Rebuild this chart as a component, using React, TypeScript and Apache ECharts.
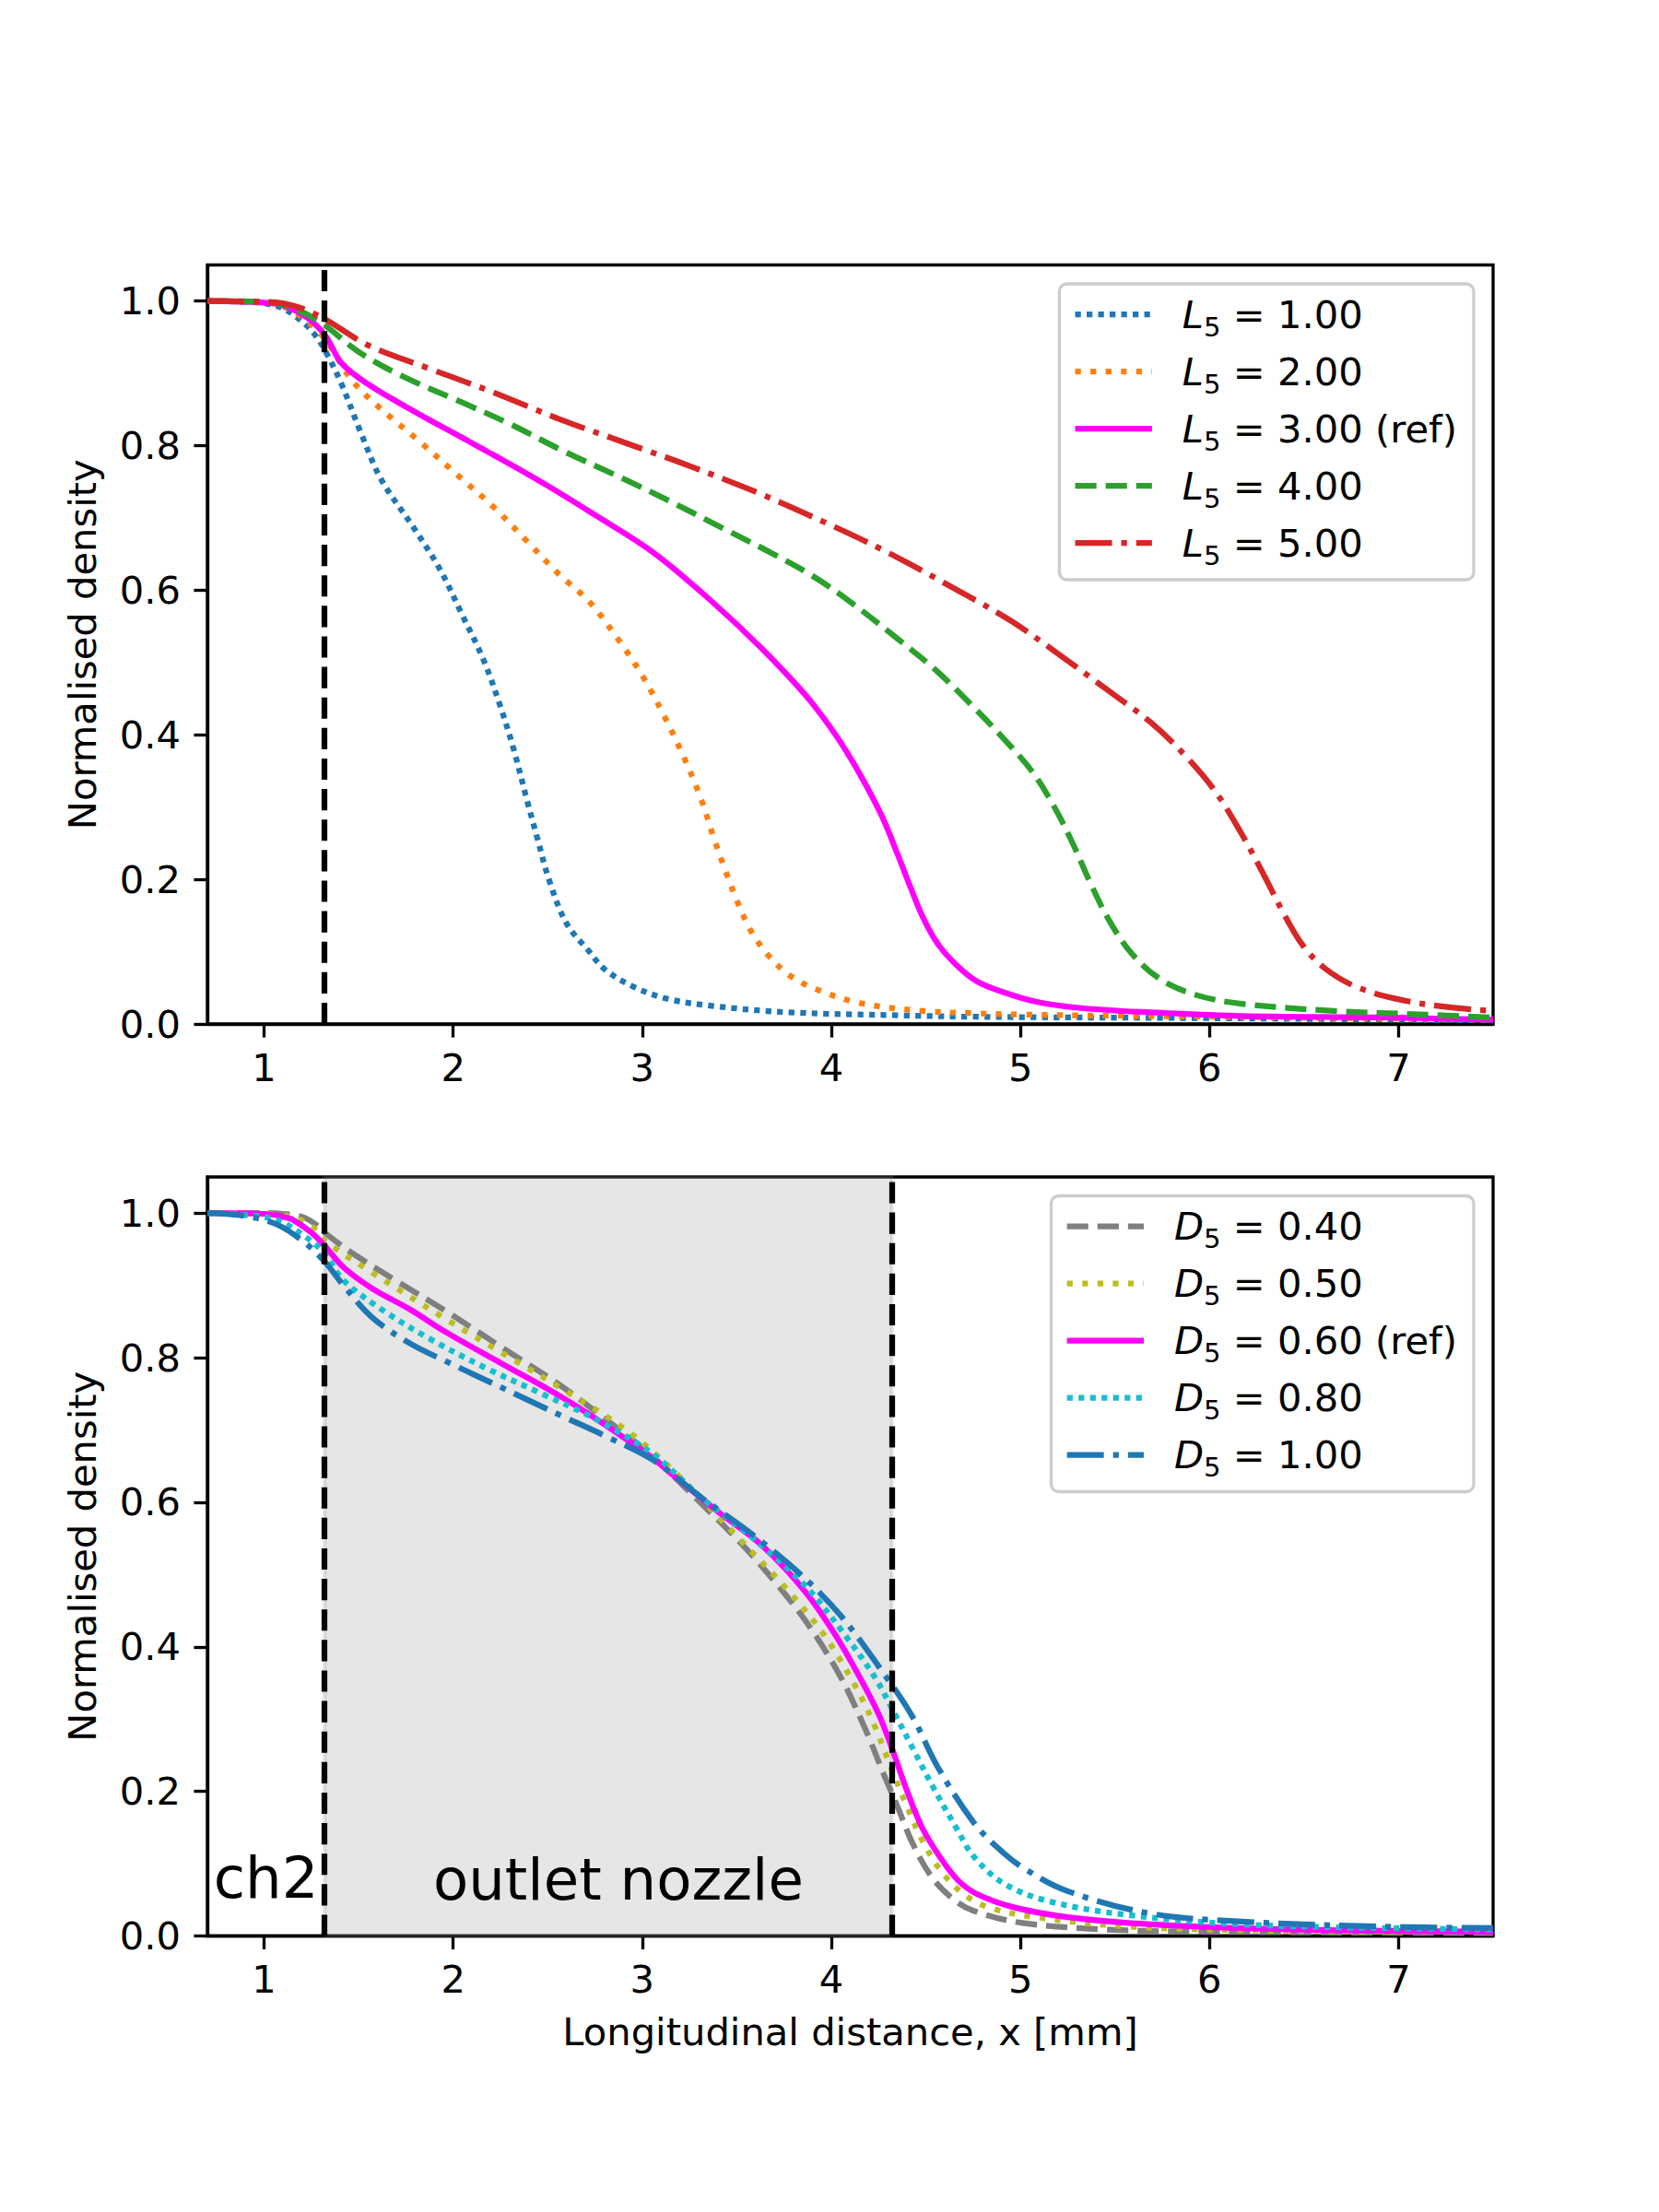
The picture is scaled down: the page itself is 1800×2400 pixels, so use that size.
import React, { useEffect, useRef } from "react";
import * as echarts from "echarts";

// ---------- data ----------
const xTicks = [1, 2, 3, 4, 5, 6, 7];
const yTicks = [0, 0.2, 0.4, 0.6, 0.8, 1.0];
const X_MIN = 0.7;
const X_MAX = 7.5;
const Y_MAX = 1.05;

const chamberEnd = 1.32; // end of ch2
const nozzleEnd = 4.32; // end of outlet nozzle

const L5_1: [number, number][] = [[0.7,1.0],[0.9,0.999],[1.0,0.997],[1.1,0.99],[1.2,0.972],[1.27,0.953],[1.33,0.928],[1.41,0.885],[1.51,0.819],[1.62,0.753],[1.79,0.687],[1.93,0.629],[2.04,0.570],[2.16,0.504],[2.25,0.439],[2.32,0.380],[2.39,0.310],[2.44,0.262],[2.51,0.197],[2.60,0.139],[2.72,0.100],[2.80,0.076],[2.95,0.052],[3.13,0.035],[3.37,0.025],[3.78,0.016],[4.35,0.012],[4.75,0.010],[6.0,0.008],[7.5,0.005]];
const L5_2: [number, number][] = [[0.7,1.0],[1.0,0.998],[1.1,0.993],[1.2,0.978],[1.27,0.962],[1.33,0.945],[1.46,0.892],[1.60,0.855],[1.83,0.804],[2.02,0.760],[2.21,0.716],[2.39,0.668],[2.56,0.622],[2.72,0.584],[2.87,0.533],[3.0,0.482],[3.12,0.424],[3.22,0.369],[3.31,0.312],[3.38,0.256],[3.44,0.212],[3.50,0.171],[3.57,0.131],[3.66,0.097],[3.78,0.067],[3.92,0.048],[4.15,0.029],[4.48,0.018],[4.75,0.015],[5.0,0.013],[6.0,0.010],[7.5,0.006]];
const L5_3: [number, number][] = [[0.7,1.0],[1.0,0.998],[1.1,0.994],[1.2,0.982],[1.27,0.968],[1.33,0.950],[1.41,0.914],[1.55,0.885],[1.79,0.848],[2.02,0.815],[2.25,0.782],[2.49,0.746],[2.72,0.709],[3.06,0.652],[3.37,0.584],[3.63,0.520],[3.86,0.456],[4.02,0.401],[4.15,0.346],[4.27,0.286],[4.35,0.235],[4.41,0.195],[4.48,0.150],[4.56,0.112],[4.66,0.082],[4.77,0.059],[4.91,0.044],[5.08,0.031],[5.32,0.022],[5.69,0.016],[6.17,0.011],[6.90,0.009],[7.5,0.006]];
const L5_4: [number, number][] = [[0.7,1.0],[1.0,0.999],[1.1,0.995],[1.2,0.985],[1.27,0.975],[1.33,0.965],[1.51,0.928],[1.74,0.895],[2.02,0.863],[2.30,0.830],[2.58,0.793],[2.91,0.753],[3.14,0.724],[3.47,0.680],[3.68,0.652],[3.90,0.620],[4.10,0.584],[4.35,0.533],[4.55,0.490],[4.75,0.439],[4.91,0.395],[5.06,0.350],[5.18,0.300],[5.28,0.248],[5.37,0.195],[5.47,0.143],[5.59,0.097],[5.74,0.062],[5.93,0.040],[6.17,0.028],[6.66,0.018],[7.14,0.013],[7.5,0.009]];
const L5_5: [number, number][] = [[0.7,1.0],[1.0,0.999],[1.1,0.997],[1.2,0.99],[1.27,0.982],[1.33,0.974],[1.55,0.939],[1.88,0.906],[2.21,0.874],[2.56,0.837],[2.91,0.804],[3.26,0.771],[3.61,0.735],[3.99,0.691],[4.30,0.652],[4.75,0.588],[4.96,0.556],[5.20,0.512],[5.45,0.464],[5.69,0.417],[5.88,0.369],[6.03,0.322],[6.17,0.263],[6.29,0.205],[6.39,0.154],[6.49,0.110],[6.61,0.077],[6.78,0.051],[7.02,0.033],[7.27,0.023],[7.5,0.018]];

const D5_040: [number, number][] = [[0.7,1.0],[1.0,1.0],[1.1,0.999],[1.2,0.995],[1.27,0.985],[1.32,0.973],[1.47,0.944],[1.72,0.903],[1.97,0.863],[2.27,0.812],[2.57,0.761],[2.81,0.714],[3.06,0.662],[3.29,0.604],[3.53,0.541],[3.73,0.481],[3.89,0.426],[4.05,0.358],[4.18,0.286],[4.28,0.222],[4.35,0.179],[4.43,0.128],[4.53,0.082],[4.64,0.052],[4.75,0.035],[5.01,0.018],[5.45,0.009],[5.93,0.006],[7.5,0.004]];
const D5_050: [number, number][] = [[0.7,1.0],[1.0,0.999],[1.1,0.997],[1.2,0.99],[1.27,0.978],[1.32,0.962],[1.57,0.918],[1.97,0.852],[2.32,0.797],[2.62,0.750],[2.94,0.695],[3.19,0.637],[3.50,0.553],[3.76,0.481],[3.96,0.417],[4.12,0.349],[4.23,0.290],[4.32,0.230],[4.40,0.179],[4.48,0.133],[4.58,0.090],[4.71,0.056],[4.85,0.038],[5.08,0.026],[5.57,0.013],[6.42,0.007],[7.5,0.006]];
const D5_060: [number, number][] = [[0.7,1.0],[1.0,0.999],[1.1,0.995],[1.15,0.991],[1.25,0.973],[1.32,0.955],[1.42,0.925],[1.57,0.896],[1.77,0.867],[1.97,0.834],[2.27,0.790],[2.57,0.746],[2.81,0.706],[3.06,0.660],[3.16,0.638],[3.40,0.587],[3.63,0.541],[3.86,0.477],[4.02,0.417],[4.15,0.358],[4.25,0.307],[4.32,0.260],[4.40,0.201],[4.48,0.150],[4.58,0.107],[4.67,0.077],[4.77,0.058],[4.96,0.040],[5.25,0.026],[5.69,0.016],[6.42,0.009],[7.5,0.006]];
const D5_080: [number, number][] = [[0.7,1.0],[0.87,0.998],[1.07,0.99],[1.22,0.967],[1.32,0.944],[1.42,0.907],[1.62,0.867],[1.87,0.827],[2.17,0.786],[2.47,0.750],[2.76,0.714],[3.06,0.666],[3.31,0.607],[3.56,0.556],[3.86,0.485],[4.07,0.417],[4.23,0.358],[4.32,0.315],[4.43,0.260],[4.54,0.205],[4.66,0.150],[4.75,0.111],[4.91,0.073],[5.15,0.048],[5.57,0.029],[6.17,0.016],[6.90,0.011],[7.5,0.009]];
const D5_100: [number, number][] = [[0.7,1.0],[0.9,0.996],[1.07,0.984],[1.22,0.958],[1.32,0.933],[1.42,0.900],[1.57,0.856],[1.77,0.820],[1.97,0.794],[2.27,0.757],[2.57,0.720],[2.81,0.691],[3.06,0.658],[3.31,0.607],[3.57,0.558],[3.83,0.502],[4.05,0.443],[4.28,0.362],[4.43,0.303],[4.56,0.235],[4.75,0.158],[4.88,0.122],[5.01,0.095],[5.25,0.062],[5.69,0.031],[6.17,0.020],[6.90,0.013],[7.5,0.011]];

const lengthValues = ["1.00", "2.00", "3.00 (ref)", "4.00", "5.00"];
const diameterValues = ["0.40", "0.50", "0.60 (ref)", "0.80", "1.00"];
const lengthData = [L5_1, L5_2, L5_3, L5_4, L5_5];
const diameterData = [D5_040, D5_050, D5_060, D5_080, D5_100];

// ---------- styles ----------
const PT = 300 / 72;
const FONT = "DejaVu Sans";
const FS = 10 * PT;
const LW = 1.5 * PT;
const DOT: number[] = [1 * LW, 1.65 * LW];
const DOT11: number[] = [1 * LW, 1 * LW];
const DASH: number[] = [3.7 * LW, 1.6 * LW];
const DASHDOT: number[] = [6.4 * LW, 1.6 * LW, 1 * LW, 1.6 * LW];

const lengthColors = ["#1f77b4", "#ff7f0e", "#ff00ff", "#2ca02c", "#d62728"];
const lengthDash: any[] = [DOT11, DOT, "solid", DASH, DASHDOT];
const diameterColors = ["#7f7f7f", "#bcbd22", "#ff00ff", "#17becf", "#1f77b4"];
const diameterDash: any[] = [DASH, DOT, "solid", DOT11, DASHDOT];

const GRID_LEFT = 225;
const GRID_W = 1395;
const GRID_H = 823.5;
const TOP1 = 287.5;
const TOP2 = 1277;

export default function App() {
  const ref = useRef<HTMLDivElement>(null);
  useEffect(() => {
    document.body.style.margin = "0";
    if (!ref.current) return;
    const chart = echarts.init(ref.current, undefined, { renderer: "svg" });

    const richLabel = (sym: string, val: string) => `{i|${sym}}{s|5}{t| = ${val}}`;
    const lengthNames = lengthValues.map((v) => `L5 = ${v}`);
    const diameterNames = diameterValues.map((v) => `D5 = ${v}`);
    const labelMap: Record<string, string> = {};
    lengthNames.forEach((n, i) => (labelMap[n] = richLabel("L", lengthValues[i])));
    diameterNames.forEach((n, i) => (labelMap[n] = richLabel("D", diameterValues[i])));

    const rich = {
      i: { fontFamily: FONT, fontStyle: "italic", fontSize: FS, lineHeight: 56, color: "#000", padding: [0, 0, 0, 28] },
      s: { fontFamily: FONT, fontSize: FS * 0.7, lineHeight: 31, verticalAlign: "bottom", color: "#000" },
      t: { fontFamily: FONT, fontSize: FS, lineHeight: 56, color: "#000" },
    };

    const legendBase = {
      orient: "vertical",
      right: 201,
      itemWidth: 2 * FS,
      itemHeight: 20,
      itemGap: 13,
      padding: [12, 18, 12, 14],
      backgroundColor: "rgba(255,255,255,0.8)",
      borderColor: "#cccccc",
      borderWidth: 0.8 * PT,
      borderRadius: 8,
      selectedMode: false,
      formatter: (n: string) => labelMap[n] || n,
      itemStyle: { opacity: 0 },
      textStyle: { rich, fontFamily: FONT, fontSize: FS, color: "#000" },
    };

    const legendData = (names: string[], colors: string[], dashes: any[]) =>
      names.map((name, i) => ({
        name,
        itemStyle: { opacity: 0 },
        lineStyle: { color: colors[i], width: LW, type: dashes[i], cap: "butt", opacity: 1 },
      }));

    const xAxisBase = (gridIndex: number, withName: boolean) => ({
      type: "value",
      gridIndex,
      min: X_MIN,
      max: X_MAX,
      axisLine: { show: true, lineStyle: { color: "#000", width: 0.8 * PT } },
      axisTick: { show: true, customValues: xTicks, length: 3.5 * PT, lineStyle: { color: "#000", width: 0.8 * PT } },
      axisLabel: {
        customValues: xTicks,
        formatter: (v: number) => String(v),
        fontFamily: FONT,
        fontSize: FS,
        color: "#000",
        margin: 26,
      },
      splitLine: { show: false },
      name: withName ? "Longitudinal distance, x [mm]" : "",
      nameLocation: "middle",
      nameGap: 83,
      nameTextStyle: { fontFamily: FONT, fontSize: FS, color: "#000" },
    });

    const yAxisBase = (gridIndex: number) => ({
      type: "value",
      gridIndex,
      min: 0,
      max: Y_MAX,
      axisLine: { show: true, lineStyle: { color: "#000", width: 0.8 * PT } },
      axisTick: { show: true, customValues: yTicks, length: 3.5 * PT, lineStyle: { color: "#000", width: 0.8 * PT } },
      axisLabel: {
        customValues: yTicks,
        formatter: (v: number) => v.toFixed(1),
        fontFamily: FONT,
        fontSize: FS,
        color: "#000",
        margin: 29,
      },
      splitLine: { show: false },
      name: "Normalised density",
      nameLocation: "middle",
      nameGap: 115,
      nameTextStyle: { fontFamily: FONT, fontSize: FS, color: "#000" },
    });

    const makeSeries = (names: string[], data: [number, number][][], colors: string[], dashes: any[], idx: number) =>
      names.map((name, i) => ({
        type: "line",
        name,
        xAxisIndex: idx,
        yAxisIndex: idx,
        data: data[i],
        showSymbol: false,
        symbol: "none",
        smooth: 0.35,
        z: 3,
        color: colors[i],
        lineStyle: { color: colors[i], width: LW, type: dashes[i], cap: "butt", join: "round" },
        emphasis: { disabled: true },
      }));

    const vLine = (idx: number, xs: number[]) => ({
      type: "line",
      name: `_vlines${idx}`,
      xAxisIndex: idx,
      yAxisIndex: idx,
      data: [],
      z: 10,
      markLine: {
        silent: true,
        symbol: ["none", "none"],
        label: { show: false },
        lineStyle: { color: "#000", width: LW, type: [3.7 * LW, 1.6 * LW], cap: "butt" },
        data: xs.map((x) => ({ xAxis: x })),
      },
    });

    const labelStyle = { show: true, position: "insideBottom", distance: 32, fontFamily: FONT, fontSize: 15 * PT, color: "#000" };

    const areaSeries = {
      type: "line",
      name: "_areas",
      xAxisIndex: 1,
      yAxisIndex: 1,
      data: [],
      z: 1,
      markArea: {
        silent: true,
        data: [
          [
            {
              xAxis: chamberEnd,
              name: "outlet nozzle",
              itemStyle: { color: "rgba(128,128,128,0.2)", borderColor: "rgba(128,128,128,0.2)", borderWidth: 1 * PT },
              label: { ...labelStyle, offset: [11, 0] },
            },
            { xAxis: nozzleEnd },
          ],
          [
            {
              xAxis: X_MIN,
              name: "ch2",
              itemStyle: { color: "rgba(0,0,0,0)", borderWidth: 0 },
              label: { ...labelStyle },
            },
            { xAxis: chamberEnd },
          ],
        ],
      },
    };

    const gridBase = { left: GRID_LEFT, width: GRID_W, height: GRID_H, show: true, borderColor: "#000", borderWidth: 0.8 * PT, backgroundColor: "transparent" };

    chart.setOption({
      animation: false,
      backgroundColor: "#ffffff",
      textStyle: { fontFamily: FONT },
      grid: [
        { ...gridBase, top: TOP1 },
        { ...gridBase, top: TOP2 },
      ],
      xAxis: [xAxisBase(0, false), xAxisBase(1, true)],
      yAxis: [yAxisBase(0), yAxisBase(1)],
      legend: [
        { ...legendBase, top: 308, data: legendData(lengthNames, lengthColors, lengthDash) },
        { ...legendBase, top: 1297.5, data: legendData(diameterNames, diameterColors, diameterDash) },
      ],
      series: [
        ...makeSeries(lengthNames, lengthData, lengthColors, lengthDash, 0),
        ...makeSeries(diameterNames, diameterData, diameterColors, diameterDash, 1),
        areaSeries,
        vLine(0, [chamberEnd]),
        vLine(1, [chamberEnd, nozzleEnd]),
      ],
    });

    return () => chart.dispose();
  }, []);

  return <div ref={ref} style={{ width: 1800, height: 2400 }} />;
}
